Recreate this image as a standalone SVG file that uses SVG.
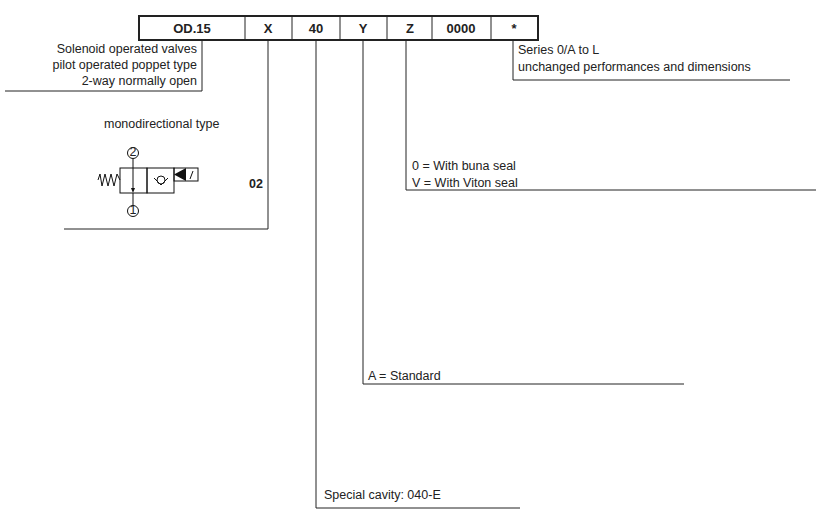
<svg xmlns="http://www.w3.org/2000/svg" width="825" height="516" viewBox="0 0 825 516">
<style>
text{font-family:"Liberation Sans",Arial,sans-serif;font-size:12.5px;fill:#222}
.h{font-weight:bold;font-size:13px;text-anchor:middle}
.r{text-anchor:end}
.ln{stroke:#222;stroke-width:1;fill:none}
.sym{stroke:#111;stroke-width:1;fill:none}
</style>
<rect width="825" height="516" fill="#fff"/>
<g id="header">
<rect x="139" y="16" width="399" height="24" fill="#fff" stroke="#222" stroke-width="2"/>
<path class="ln" stroke-width="2" d="M245 16V40M292 16V40M340 16V40M387 16V40M432 16V40M491 16V40"/>
<text class="h" x="192" y="33">OD.15</text>
<text class="h" x="268" y="33">X</text>
<text class="h" x="316" y="33">40</text>
<text class="h" x="363" y="33">Y</text>
<text class="h" x="410" y="33">Z</text>
<text class="h" x="461" y="33">0000</text>
<text class="h" x="514" y="33">*</text>
</g>
<g id="connectors">
<path class="ln" d="M202 40V91H5"/>
<path class="ln" d="M268 40V229H64"/>
<path class="ln" d="M316 40V508H520"/>
<path class="ln" d="M363 40V384H684"/>
<path class="ln" d="M406 40V190H816"/>
<path class="ln" d="M513 40V80H790"/>
</g>
<g id="desc">
<text class="r" x="197" y="53">Solenoid operated valves</text>
<text class="r" x="197" y="69">pilot operated poppet type</text>
<text class="r" x="197" y="85">2-way normally open</text>
</g>
<g id="series">
<text x="518" y="54">Series 0/A to L</text>
<text x="518" y="71">unchanged performances and dimensions</text>
</g>
<g id="seal">
<text x="412" y="170">0 = With buna seal</text>
<text x="412" y="187">V = With Viton seal</text>
</g>
<g id="standard"><text x="368" y="380">A = Standard</text></g>
<g id="cavity"><text x="324" y="499">Special cavity: 040-E</text></g>
<g id="type02">
<text x="104" y="128">monodirectional type</text>
<text x="249" y="188" font-weight="bold">02</text>
<rect class="sym" x="120" y="168" width="27" height="25"/>
<rect class="sym" x="147" y="168" width="27" height="25"/>
<rect class="sym" x="174" y="168" width="24" height="13"/>
<path class="sym" d="M98 180L100 174L102 186L105 174L108 186L111 174L114 186L117 174L120 180"/>
<circle class="sym" cx="133" cy="153" r="5.5"/>
<text x="133" y="156" font-size="8" text-anchor="middle">2</text>
<circle class="sym" cx="133" cy="211" r="5.5"/>
<text x="133" y="214" font-size="8" text-anchor="middle">1</text>
<path class="sym" d="M133 158.5V168M133 193V205.5"/>
<path class="sym" d="M133 168V190"/>
<path d="M131 188L135 188L133 193Z" fill="#111"/>
<circle class="sym" cx="161" cy="180" r="4"/>
<path class="sym" d="M154 178L161 185L168 178"/>
<path d="M174 174.5L186 168V181Z" fill="#111"/>
<path class="sym" d="M190 179L193 171"/>
</g>
</svg>
